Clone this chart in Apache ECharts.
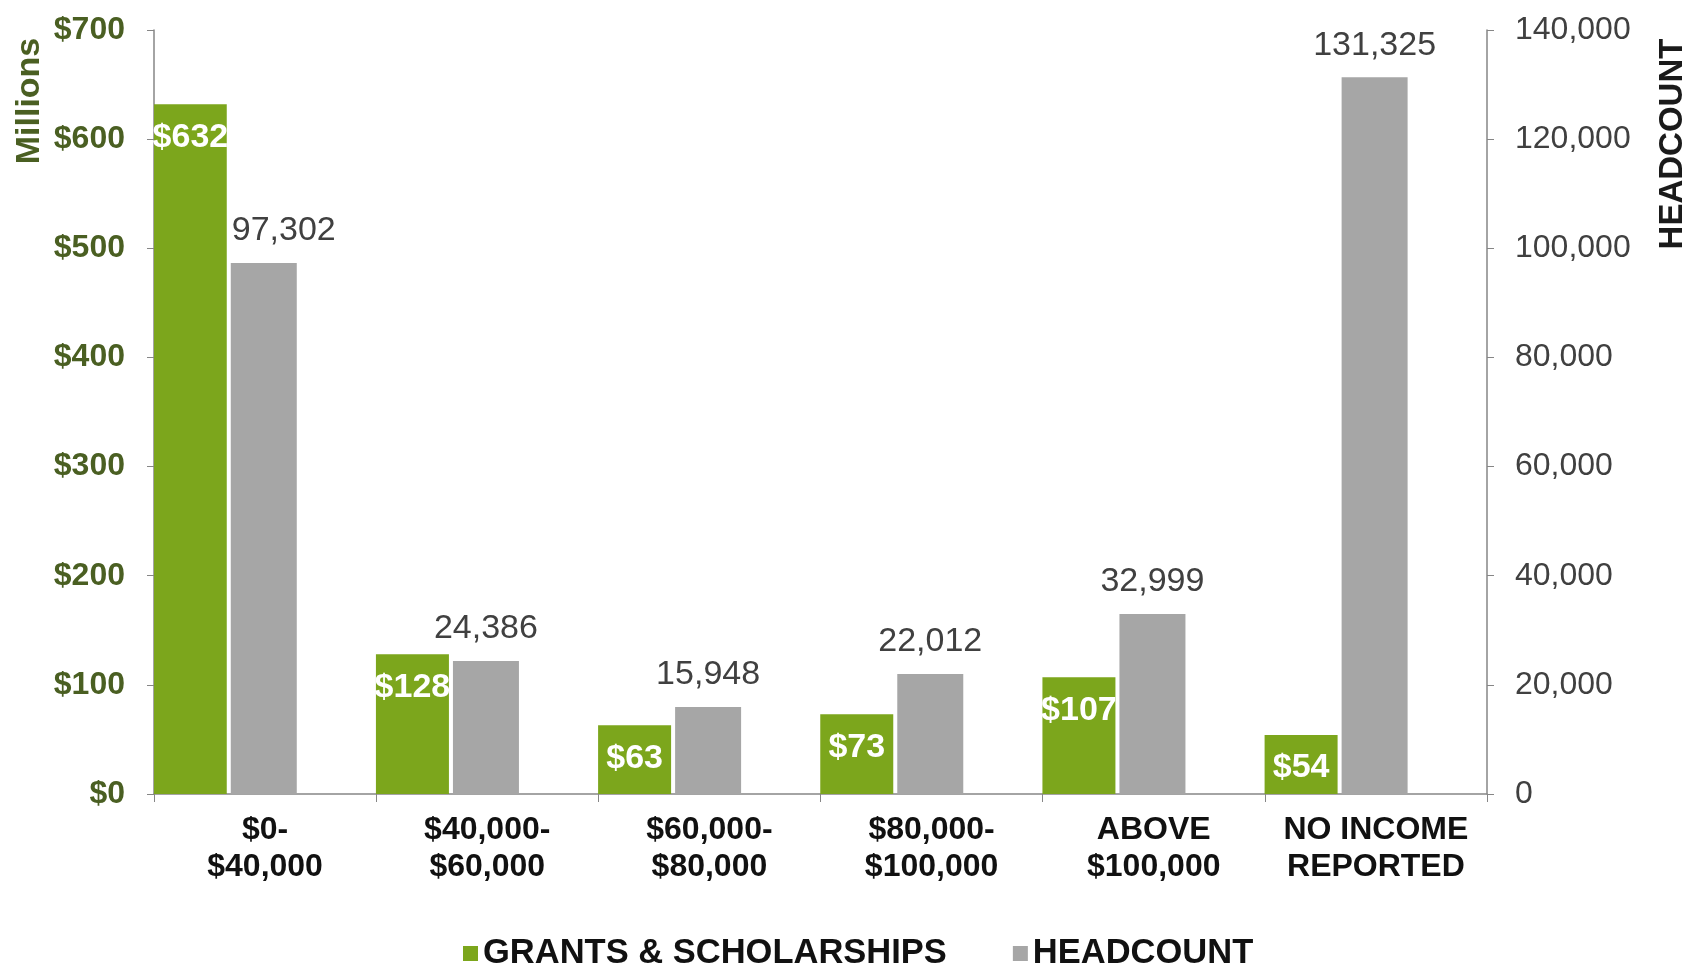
<!DOCTYPE html>
<html>
<head>
<meta charset="utf-8">
<script src="https://cdn.jsdelivr.net/npm/echarts@6/dist/echarts.min.js"></script>
<style>
  html, body { margin: 0; padding: 0; background: #fff; }
  #chart { width: 1690px; height: 966px; }
</style>
</head>
<body>
<div id="chart"></div>
<script>
const categories = ['$0-\n$40,000', '$40,000-\n$60,000', '$60,000-\n$80,000', '$80,000-\n$100,000', 'ABOVE\n$100,000', 'NO INCOME\nREPORTED']
const grants = [632, 128, 63, 73, 107, 54]          // millions of dollars
const headcount = [97302, 24386, 15948, 22012, 32999, 131325]

const GREEN = '#7ca61c'
const GRAY = '#a6a6a6'
const DARK_GREEN = '#4a5f22'
const FONT = 'Liberation Sans, Arial, sans-serif'

const fmt = (v) => v.toLocaleString('en-US')

const chart = echarts.init(document.getElementById('chart'))

chart.setOption({
  animation: false,
  textStyle: { fontFamily: FONT },
  grid: { left: 154, right: 203, top: 30, bottom: 172 },
  legend: {
    data: ['GRANTS & SCHOLARSHIPS', 'HEADCOUNT'],
    top: 931,
    left: 458,
    icon: 'rect',
    itemWidth: 15,
    itemHeight: 15,
    itemGap: 66,
    textStyle: { fontSize: 34.5, fontWeight: 'bold', color: '#111', fontFamily: FONT }
  },
  graphic: [
    {
      type: 'text', x: 30, y: 101, rotation: Math.PI / 2,
      style: { text: 'Millions', align: 'center', verticalAlign: 'middle', fill: DARK_GREEN, font: 'bold 34px ' + FONT }
    },
    {
      type: 'text', x: 1673, y: 144, rotation: Math.PI / 2,
      style: { text: 'HEADCOUNT', align: 'center', verticalAlign: 'middle', fill: '#1a1a1a', font: 'bold 33px ' + FONT }
    }
  ],
  xAxis: {
    type: 'category',
    data: categories,
    axisLine: { lineStyle: { color: '#868686', width: 1.5 } },
    axisTick: { show: true, interval: 0, length: 8, lineStyle: { color: '#868686' } },
    axisLabel: { interval: 0, hideOverlap: false, fontSize: 32, fontWeight: 'bold', color: '#111', lineHeight: 37, margin: 18 }
  },
  yAxis: [
    {
      type: 'value',
      min: 0, max: 700, interval: 100,
      splitLine: { show: false },
      axisLine: { show: true, lineStyle: { color: '#868686', width: 1.5 } },
      axisTick: { show: true, length: 7, lineStyle: { color: '#868686' } },
      axisLabel: { formatter: (v) => '$' + v, fontSize: 32, fontWeight: 'bold', color: DARK_GREEN, margin: 29 }
    },
    {
      type: 'value',
      min: 0, max: 140000, interval: 20000,
      splitLine: { show: false },
      axisLine: { show: true, lineStyle: { color: '#868686', width: 1.5 } },
      axisTick: { show: true, length: 7, lineStyle: { color: '#868686' } },
      axisLabel: { formatter: fmt, fontSize: 32, color: '#404040', margin: 28 }
    }
  ],
  series: [
    {
      name: 'GRANTS & SCHOLARSHIPS',
      type: 'bar',
      yAxisIndex: 0,
      data: grants,
      barWidth: 73,
      barGap: '5.5%',
      itemStyle: { color: GREEN },
      label: {
        show: true, position: 'insideTop', distance: 16,
        formatter: ({ value }) => '$' + value,
        color: '#fff', fontSize: 34, fontWeight: 'bold'
      }
    },
    {
      name: 'HEADCOUNT',
      type: 'bar',
      yAxisIndex: 1,
      // first label is nudged right so it clears the tall green bar
      data: headcount.map((v, i) => (i === 0 ? { value: v, label: { offset: [20, 0] } } : v)),
      barWidth: 66,
      barGap: '5.5%',
      itemStyle: { color: GRAY },
      label: {
        show: true, position: 'top', distance: 15,
        formatter: ({ value }) => fmt(value),
        color: '#404040', fontSize: 34
      }
    },
    {
      // empty spacer so the pair of bars sits at the left of each category
      name: 'spacer',
      type: 'bar',
      yAxisIndex: 0,
      data: [],
      barWidth: 76,
      barGap: '5.5%',
      silent: true
    }
  ]
})
</script>
</body>
</html>
